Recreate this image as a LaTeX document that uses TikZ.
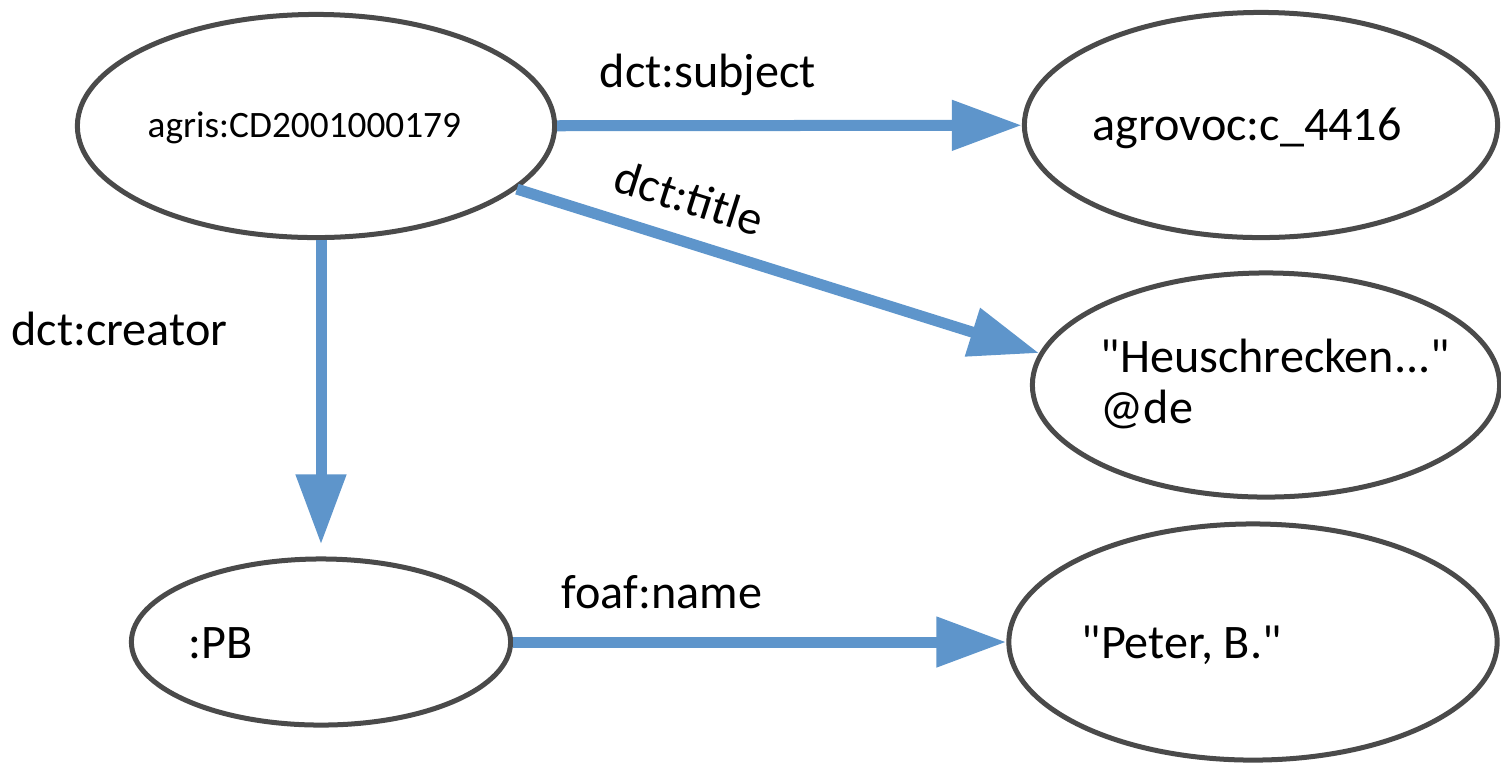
\documentclass[tikz,border=0pt]{standalone}
\usepackage{fontspec}
\setmainfont{Carlito}
\usepackage{tikz}
\usetikzlibrary{shapes.geometric,arrows.meta}
\definecolor{edgeblue}{RGB}{94,149,203}
\definecolor{rimgrey}{RGB}{74,74,74}
\newcommand{\dq}{\textquotedbl}
\tikzset{res/.style={ellipse, draw=rimgrey, line width=0.05cm, inner sep=0pt},
  txt/.style={anchor=base west, inner sep=0pt, font=\fontsize{13.7}{14.5}\selectfont},
  rel/.style={edgeblue, line width=0.11cm, -{Triangle[length=0.7cm, width=0.48cm]}}}

\begin{document}
\begin{tikzpicture}[x=0.01cm, y=-0.01cm]
\useasboundingbox (0,0) rectangle (1501,766);
\node[res, minimum width=4.77cm, minimum height=2.23cm] (agris) at (316,126) {}; \node[res, minimum width=4.73cm, minimum height=2.25cm] (agrovoc) at (1261,125) {};
\node[res, minimum width=4.67cm, minimum height=2.24cm] (heu) at (1266,385) {}; \node[res, minimum width=3.79cm, minimum height=1.66cm] (pb) at (321,642) {}; \node[res, minimum width=4.88cm, minimum height=2.36cm] (peter) at (1253,642) {};
\node[txt, font=\fontsize{10.6}{12}\selectfont] (agrist) at (147,137) {agris:CD2001000179}; \node[txt] (agrovoct) at (1092,140) {agrovoc:c\_4416};
\node[txt, align=left] (heut) at (1100,423) {\dq Heuschrecken...\dq\\@de}; \node[txt] (pbt) at (188,658) {:PB}; \node[txt] (petert) at (1081,658) {\dq Peter, B.\dq};
\draw[rel] (agris) -- (agrovoc); \draw[rel] (agris) -- (heu.172); \draw[rel, shorten >=0.12cm] (agris.south -| pb) -- (pb.north); \draw[rel] (pb) -- (peter);
\node[txt] (subj) at (599,87) {dct:subject}; \node[txt, rotate=-17.6] (title) at (611,190) {dct:title}; \node[txt] (creator) at (11,345) {dct:creator}; \node[txt] (fname) at (561,608) {foaf:name};
\end{tikzpicture}
\end{document}
